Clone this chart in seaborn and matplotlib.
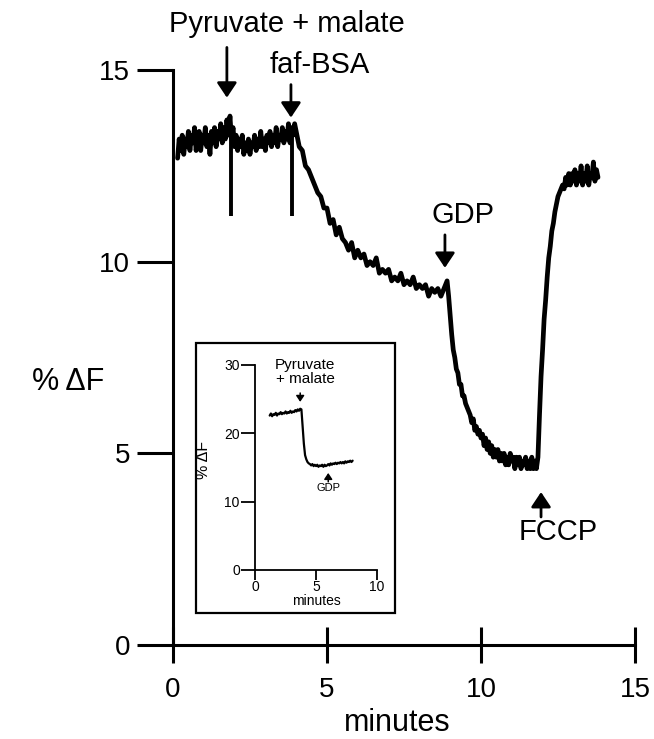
import numpy as np
import pandas as pd
import matplotlib
matplotlib.use("Agg")
import matplotlib.pyplot as plt
import seaborn as sns
from matplotlib.patches import Rectangle

sns.set_theme(style="ticks")
plt.rcParams["font.family"] = ["Liberation Sans", "DejaVu Sans"]
plt.rcParams.update({"text.color": "black", "axes.labelcolor": "black",
                     "xtick.color": "black", "ytick.color": "black"})

# main recording, % dF; each segment is (start min, step min, values)
baseline = [
    12.7, 13.2, 12.9, 13.3, 12.8, 13.2, 13.0, 13.4, 12.9, 13.3, 13.1, 13.5, 12.9, 13.2, 13.4,
    12.9, 13.3, 13.1, 13.5, 13.0, 13.3, 12.8, 13.4, 13.1, 13.5, 13.0, 13.4, 13.2, 13.6, 13.1,
    13.5, 13.2, 13.7, 13.3, 13.8, 13.2, 13.5, 13.0, 13.3, 12.9, 13.2, 13.0, 13.3, 12.8, 13.1,
    12.9, 13.2, 12.8, 13.1, 13.0, 13.3, 12.9, 13.2, 13.0, 13.4, 13.0, 13.2, 12.9, 13.3, 13.1,
    13.4, 13.0, 13.3, 13.1, 13.5, 13.0, 13.3, 13.2, 13.5, 13.1, 13.4, 13.2, 13.6, 13.1, 13.5,
    13.3, 13.6,
]
decline = [
    13.4, 13.0, 12.9, 12.5, 12.4, 12.2, 12.0, 11.8, 11.7, 11.4, 11.4, 11.0, 11.1, 10.7, 10.9,
    10.6, 10.5, 10.3, 10.5, 10.1, 10.3, 10.1, 10.2, 9.9, 10.0, 9.9, 10.1, 9.7, 9.8, 9.7,
    9.8, 9.5, 9.6, 9.5, 9.7, 9.4, 9.5, 9.4, 9.6, 9.3, 9.4, 9.3, 9.4, 9.1, 9.3,
    9.2, 9.3, 9.1, 9.3, 9.5,
]
gdp_drop = [
    9.1, 8.6, 8.1, 7.7, 7.5, 7.2, 7.1, 6.8, 6.8, 6.5, 6.5, 6.3, 6.2, 6.1, 6.0,
    5.8, 5.9, 5.6, 5.7, 5.5, 5.6, 5.4, 5.5, 5.2, 5.4, 5.1, 5.3, 5.0, 5.2, 4.9,
    5.1, 4.9, 5.1, 4.8, 5.0, 4.8, 5.0, 4.7, 4.9, 4.7, 5.0, 4.8, 4.9, 4.6, 4.9,
    4.7, 4.9, 4.6, 4.8, 4.7, 4.9, 4.6, 4.8, 4.6, 4.9, 4.6, 4.8, 4.6, 4.9,
]
fccp_rise = [
    6.0, 7.0, 7.7, 8.5, 9.0, 9.6, 10.1, 10.4, 10.8, 11.0, 11.3, 11.5, 11.7, 11.8, 11.9,
    12.0, 11.9, 12.2, 12.0, 12.3, 12.0, 12.3, 12.1, 12.4, 12.0, 12.3, 12.1, 12.5, 12.0, 12.3,
    12.1, 12.5, 12.0, 12.3, 12.2, 12.6, 12.1, 12.4, 12.2,
]
segments = [(0.15, 0.05, baseline), (4.0, 0.1, decline), (8.95, 0.05, gdp_drop), (11.9, 0.05, fccp_rise)]

# injection artefacts
spike_t = [1.87, 3.86]
spike_top = [13.3, 13.4]
spike_low = [11.2, 11.2]

# inset recording
inset_t0, inset_dt = 1.2, 0.1
inset_vals = [
    22.6, 22.9, 22.5, 22.8, 22.7, 23.0, 22.6, 22.9, 22.8, 23.1, 22.8, 23.0, 22.9, 23.2, 22.9,
    23.1, 23.0, 23.3, 23.0, 23.2, 23.1, 23.4, 23.2, 23.5, 23.3, 23.6, 23.5, 21.0, 18.5, 16.8,
    16.2, 15.8, 15.6, 15.5, 15.3, 15.5, 15.2, 15.4, 15.2, 15.4, 15.1, 15.3, 15.2, 15.4, 15.1,
    15.4, 15.2, 15.3, 15.5, 15.3, 15.6, 15.4, 15.6, 15.5, 15.7, 15.5, 15.7, 15.6, 15.8, 15.6,
    15.8, 15.6, 15.9, 15.7, 15.9, 15.8, 16.0, 15.8, 16.0,
]

df = pd.concat(
    [pd.DataFrame({"minutes": t0 + dt * np.arange(len(v)), "dF": v}) for t0, dt, v in segments],
    ignore_index=True,
)
df_in = pd.DataFrame({"minutes": inset_t0 + inset_dt * np.arange(len(inset_vals)), "dF": inset_vals})

fig = plt.figure(figsize=(6.54, 7.39), dpi=100)
ax = fig.add_axes([0.2645, 0.1272, 0.7064, 0.778])
ax.patch.set_alpha(0)

sns.lineplot(data=df, x="minutes", y="dF", ax=ax, color="black", lw=3.4,
             estimator=None, sort=False)
ax.vlines(spike_t, spike_low, spike_top, color="black", lw=2.8)

ax.set_xlim(0, 15)
ax.set_ylim(0, 15)
ax.set_xticks([0, 5, 10, 15])
ax.set_yticks([0, 5, 10, 15])
ax.tick_params(axis="y", direction="out", length=26, width=2.2, labelsize=20, pad=5)
ax.tick_params(axis="x", direction="inout", length=26, width=2.2, labelsize=20, pad=10)
sns.despine(ax=ax)
for s in ["left", "bottom"]:
    ax.spines[s].set_linewidth(2.2)
    ax.spines[s].set_color("black")

ax.set_xlabel("minutes", fontsize=22)
ax.xaxis.set_label_coords(0.485, -0.11)
ax.set_ylabel("%\u2009ΔF", fontsize=22, rotation=0, ha="center", va="center")
ax.yaxis.set_label_coords(-0.227, 0.457)


def arrow(a, x, tail, tip, lw, scale):
    a.annotate("", xy=(x, tip), xytext=(x, tail), annotation_clip=False,
               arrowprops=dict(arrowstyle="-|>,head_length=0.45,head_width=0.3",
                               lw=lw, color="black", mutation_scale=scale,
                               shrinkA=0, shrinkB=0))


arrow(ax, 1.75, 15.59, 14.28, 2, 20)
arrow(ax, 3.83, 14.62, 13.76, 2, 20)
arrow(ax, 8.83, 10.70, 9.84, 2, 20)
arrow(ax, 11.95, 3.34, 3.99, 2, 20)
ax.text(3.7, 16.19, "Pyruvate + malate", ha="center", va="center", fontsize=21, clip_on=False)
ax.text(4.77, 15.14, "faf-BSA", ha="center", va="center", fontsize=21, clip_on=False)
ax.text(9.42, 11.23, "GDP", ha="center", va="center", fontsize=21)
ax.text(12.5, 2.95, "FCCP", ha="center", va="center", fontsize=21)

# inset
box = Rectangle((0.2997, 0.1705), 0.3043, 0.3654, transform=fig.transFigure,
                fill=False, lw=1.6, ec="black")
fig.add_artist(box)

iax = fig.add_axes([0.390, 0.2287, 0.1865, 0.2774])
iax.patch.set_alpha(0)
sns.lineplot(data=df_in, x="minutes", y="dF", ax=iax, color="black", lw=1.6,
             estimator=None, sort=False)
iax.set_xlim(0, 10)
iax.set_ylim(0, 30)
iax.set_xticks([0, 5, 10])
iax.set_yticks([0, 10, 20, 30])
iax.tick_params(axis="y", direction="out", length=10, width=1.3, labelsize=10, pad=1)
iax.tick_params(axis="x", direction="out", length=7, width=1.3, labelsize=10, pad=0)
sns.despine(ax=iax)
for s in ["left", "bottom"]:
    iax.spines[s].set_linewidth(1.3)
    iax.spines[s].set_color("black")
iax.set_xlabel("minutes", fontsize=10, labelpad=0)
iax.set_ylabel("%\u2009ΔF", fontsize=11.5)
iax.yaxis.set_label_coords(-0.36, 0.537)

arrow(iax, 3.7, 25.9, 24.6, 1.1, 8)
arrow(iax, 6.0, 12.9, 14.2, 1.1, 8)
iax.text(4.1, 29.0, "Pyruvate\n+ malate", ha="center", va="center", fontsize=11,
         linespacing=1.0, clip_on=False)
iax.text(6.0, 12.0, "GDP", ha="center", va="center", fontsize=8)

fig.savefig("out.png", dpi=100)
